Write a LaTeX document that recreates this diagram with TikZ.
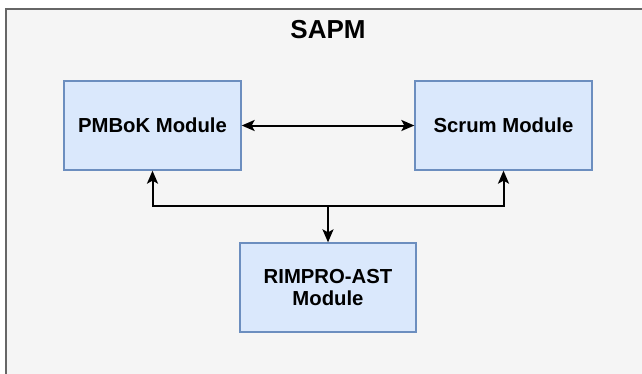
\documentclass[tikz,border=0pt]{standalone}
\usepackage{fontspec}
\setmainfont{Liberation Sans}
\usetikzlibrary{arrows.meta, calc, positioning}

\definecolor{panelfill}{HTML}{F5F5F5}
\definecolor{paneldraw}{HTML}{666666}
\definecolor{modfill}{HTML}{DAE8FC}
\definecolor{moddraw}{HTML}{6C8EBF}

\tikzset{
    module/.style={draw=moddraw, fill=modfill, line width=1.3pt, minimum width=177pt,
        minimum height=89pt, inner sep=0pt, align=center,
        font=\fontsize{20.3}{22}\selectfont\bfseries},
    link/.style={line width=2pt}
}

\begin{document}
\begin{tikzpicture}[x=1pt, y=1pt, >={Stealth[length=13pt,width=11pt,inset=3pt]}]
            \useasboundingbox (0,0) rectangle (642,-373);
            \fill[white] (0,0) rectangle (642,-373);
            \clip (0,0) rectangle (642,-373);

            % outer panel
            \draw[paneldraw, fill=panelfill, line width=2pt] (6,-9) rectangle (700,-420);
            \node (title) at (328,-30) {\fontsize{26}{30}\selectfont\bfseries SAPM};

            % modules
            \node[module] (pmbok) at (152.5,-125.5) {PMBoK Module};
            \node[module] (scrum) at (503.5,-125.5) {Scrum Module};
            \node[module, minimum width=176pt] (rimpro) at (328,-287.5) {RIMPRO-AST\\Module};

            % connectors
            \draw[link, <->] (pmbok) -- (scrum);
            \coordinate (split) at ($(rimpro.north)+(0,36.5)$);
            \draw[link, ->] (split) -| (pmbok.south);
            \draw[link, ->] (split) -| (scrum.south);
            \draw[link, ->] (split) -- (rimpro.north);
        \end{tikzpicture}
\end{document}
